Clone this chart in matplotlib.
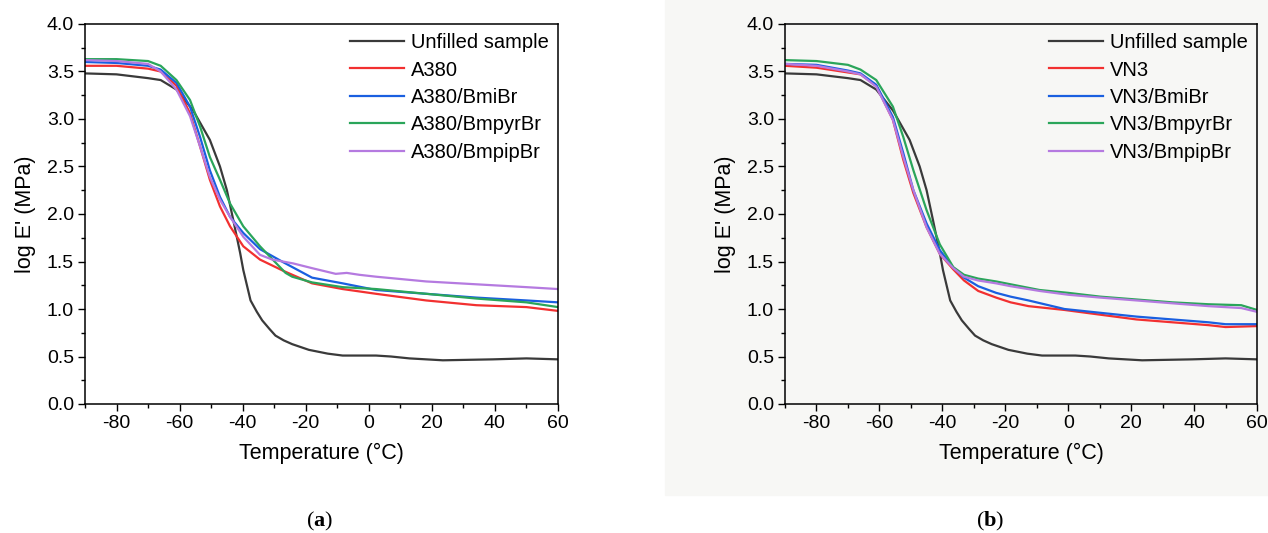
import numpy as np
import matplotlib
matplotlib.use('Agg')
import matplotlib.pyplot as plt
from matplotlib.ticker import MultipleLocator, FormatStrFormatter
from matplotlib.patches import Rectangle

#############################################################
''' Data read off the two DMA panels (log E' vs T) '''

# unfilled sample - same curve in both panels
T_unf = [-90, -80, -70, -66, -61, -55.7, -50.4, -47.2, -45, -43, -40.8, -39.8, -37.5, -35.5,
         -33.8, -31.5, -29.6, -27, -24.3, -19, -13, -8.3, 2.3, 7, 12.9, 23.5, 39.4, 50, 60]
E_unf = [3.48, 3.47, 3.43, 3.41, 3.31, 3.09, 2.78, 2.50, 2.25, 1.94, 1.59, 1.41, 1.09, 0.97,
         0.88, 0.79, 0.72, 0.67, 0.63, 0.57, 0.53, 0.51, 0.51, 0.50, 0.48, 0.46, 0.47, 0.48, 0.47]

# panel (a)
T_a = [-90, -80, -70, -66, -61, -56.7, -53.5, -50.4, -47.2, -44, -39.8, -34.5, -27,
       -18, -8.3, 2.3, 18.2, 34.1, 50, 60]
E_a380 = [3.56, 3.56, 3.53, 3.50, 3.35, 3.06, 2.71, 2.36, 2.08, 1.87, 1.66, 1.52, 1.40,
          1.27, 1.21, 1.16, 1.09, 1.04, 1.02, 0.98]
E_a380_bmi = [3.60, 3.59, 3.56, 3.52, 3.38, 3.13, 2.81, 2.46, 2.18, 1.97, 1.80, 1.63, 1.49,
              1.33, 1.27, 1.20, 1.16, 1.12, 1.09, 1.07]

T_a_pyr = [-90, -80, -70, -66, -61, -56.7, -53.5, -50.4, -47.2, -44, -39.8, -34.5, -29.6,
           -26.4, -24.3, -18, -8.3, 2.3, 18.2, 34.1, 50, 60]
E_a380_bmpyr = [3.63, 3.63, 3.61, 3.56, 3.41, 3.20, 2.92, 2.60, 2.36, 2.11, 1.87, 1.66, 1.49,
                1.38, 1.34, 1.28, 1.23, 1.21, 1.16, 1.11, 1.07, 1.02]

T_a_pip = [-90, -80, -70, -66, -61, -56.7, -53.5, -50.4, -47.2, -44, -39.8, -34.5, -30.6,
           -24, -18, -10.5, -7, -3, 2.3, 18.2, 34.1, 50, 60]
E_a380_bmpip = [3.62, 3.61, 3.58, 3.50, 3.31, 3.03, 2.71, 2.39, 2.15, 1.97, 1.76, 1.57, 1.52,
                1.48, 1.43, 1.37, 1.38, 1.36, 1.34, 1.29, 1.26, 1.23, 1.21]

# panel (b)
T_b = [-90, -80, -70, -66, -61, -55.7, -52.4, -49.2, -45, -40.8, -36.6, -33.1, -28.6,
       -22.9, -18.3, -12.6, -1.2, 10.2, 21.7, 33.1, 44.6, 50, 60]
E_vn3 = [3.56, 3.54, 3.49, 3.47, 3.35, 2.99, 2.57, 2.22, 1.86, 1.58, 1.42, 1.30, 1.19,
         1.12, 1.07, 1.03, 0.99, 0.94, 0.89, 0.86, 0.83, 0.81, 0.82]
E_vn3_bmi = [3.58, 3.57, 3.51, 3.48, 3.36, 3.02, 2.64, 2.25, 1.90, 1.62, 1.44, 1.33, 1.24,
             1.17, 1.13, 1.09, 1.00, 0.96, 0.92, 0.89, 0.86, 0.84, 0.84]

T_b2 = [-90, -80, -70, -66, -61, -55.7, -52.4, -49.2, -45, -40.8, -36.5, -33.1, -28.6,
        -22.9, -18.3, -9.1, 0, 10.2, 21.7, 33.1, 44.6, 55, 60]
E_vn3_bmpyr = [3.62, 3.61, 3.57, 3.52, 3.41, 3.13, 2.81, 2.46, 2.04, 1.68, 1.44, 1.36, 1.32,
               1.29, 1.26, 1.20, 1.17, 1.13, 1.10, 1.07, 1.05, 1.04, 0.99]
E_vn3_bmpip = [3.58, 3.56, 3.50, 3.47, 3.34, 2.99, 2.60, 2.25, 1.86, 1.58, 1.43, 1.34, 1.30,
               1.27, 1.24, 1.19, 1.15, 1.12, 1.09, 1.06, 1.03, 1.01, 0.97]

labels_a = ['Unfilled sample', 'A380', 'A380/BmiBr', 'A380/BmpyrBr', 'A380/BmpipBr']
labels_b = ['Unfilled sample', 'VN3', 'VN3/BmiBr', 'VN3/BmpyrBr', 'VN3/BmpipBr']
colors = ['#3a3a3a', '#f23030', '#1a5fe0', '#2aa55a', '#b57ae0']

#############################################################
''' Figure '''

plt.rcParams['font.family'] = ['Liberation Sans', 'DejaVu Sans']
plt.rcParams['axes.unicode_minus'] = False
plt.rcParams['mathtext.fontset'] = 'custom'
plt.rcParams['mathtext.rm'] = 'Liberation Serif'
plt.rcParams['mathtext.bf'] = 'Liberation Serif:bold'

fig = plt.figure(figsize=(12.68, 5.33), dpi=100)
# faint background of panel (b) image
fig.patches.append(Rectangle((665/1268, 1-495/533), 603/1268, 495/533,
                             transform=fig.transFigure, color='#f7f7f5', zorder=-5))

ax_a = fig.add_axes([85/1268, 129/533, 473/1268, 380/533])
ax_b = fig.add_axes([785/1268, 129/533, 472/1268, 380/533])

series_a = [(T_unf, E_unf), (T_a, E_a380), (T_a, E_a380_bmi), (T_a_pyr, E_a380_bmpyr), (T_a_pip, E_a380_bmpip)]
series_b = [(T_unf, E_unf), (T_b, E_vn3), (T_b, E_vn3_bmi), (T_b2, E_vn3_bmpyr), (T_b2, E_vn3_bmpip)]

for ax, series, labels in [(ax_a, series_a, labels_a), (ax_b, series_b, labels_b)]:
    ax.set_facecolor('none')
    for (x, y), lab, c in zip(series, labels, colors):
        ax.plot(x, y, color=c, lw=1.6, label=lab, solid_joinstyle='round')
    ax.set_xlim(-90, 60)
    ax.set_ylim(0, 4)
    ax.xaxis.set_major_locator(MultipleLocator(20))
    ax.xaxis.set_minor_locator(MultipleLocator(10))
    ax.yaxis.set_major_locator(MultipleLocator(0.5))
    ax.yaxis.set_minor_locator(MultipleLocator(0.25))
    ax.yaxis.set_major_formatter(FormatStrFormatter('%.1f'))
    ax.tick_params(which='major', direction='out', length=5, width=1, labelsize=14, pad=3)
    ax.tick_params(which='minor', direction='out', length=3, width=1)
    for s in ax.spines.values():
        s.set_linewidth(1.1)
    ax.set_xlabel('Temperature (°C)', fontsize=15.5, labelpad=8)
    ax.set_ylabel("log E' (MPa)", fontsize=15.5, labelpad=8)
    ax.legend(loc='upper right', frameon=False, fontsize=14.5, handlelength=2.7,
              handletextpad=0.35, labelspacing=0.42, borderaxespad=0.1, borderpad=0.35)

fig.text(320/1268, 1-521/533, r'$\mathrm{(}\mathbf{a}\mathrm{)}$', ha='center', va='center', fontsize=16)
fig.text(990/1268, 1-521/533, r'$\mathrm{(}\mathbf{b}\mathrm{)}$', ha='center', va='center', fontsize=16)

fig.savefig('out.png', dpi=100)
